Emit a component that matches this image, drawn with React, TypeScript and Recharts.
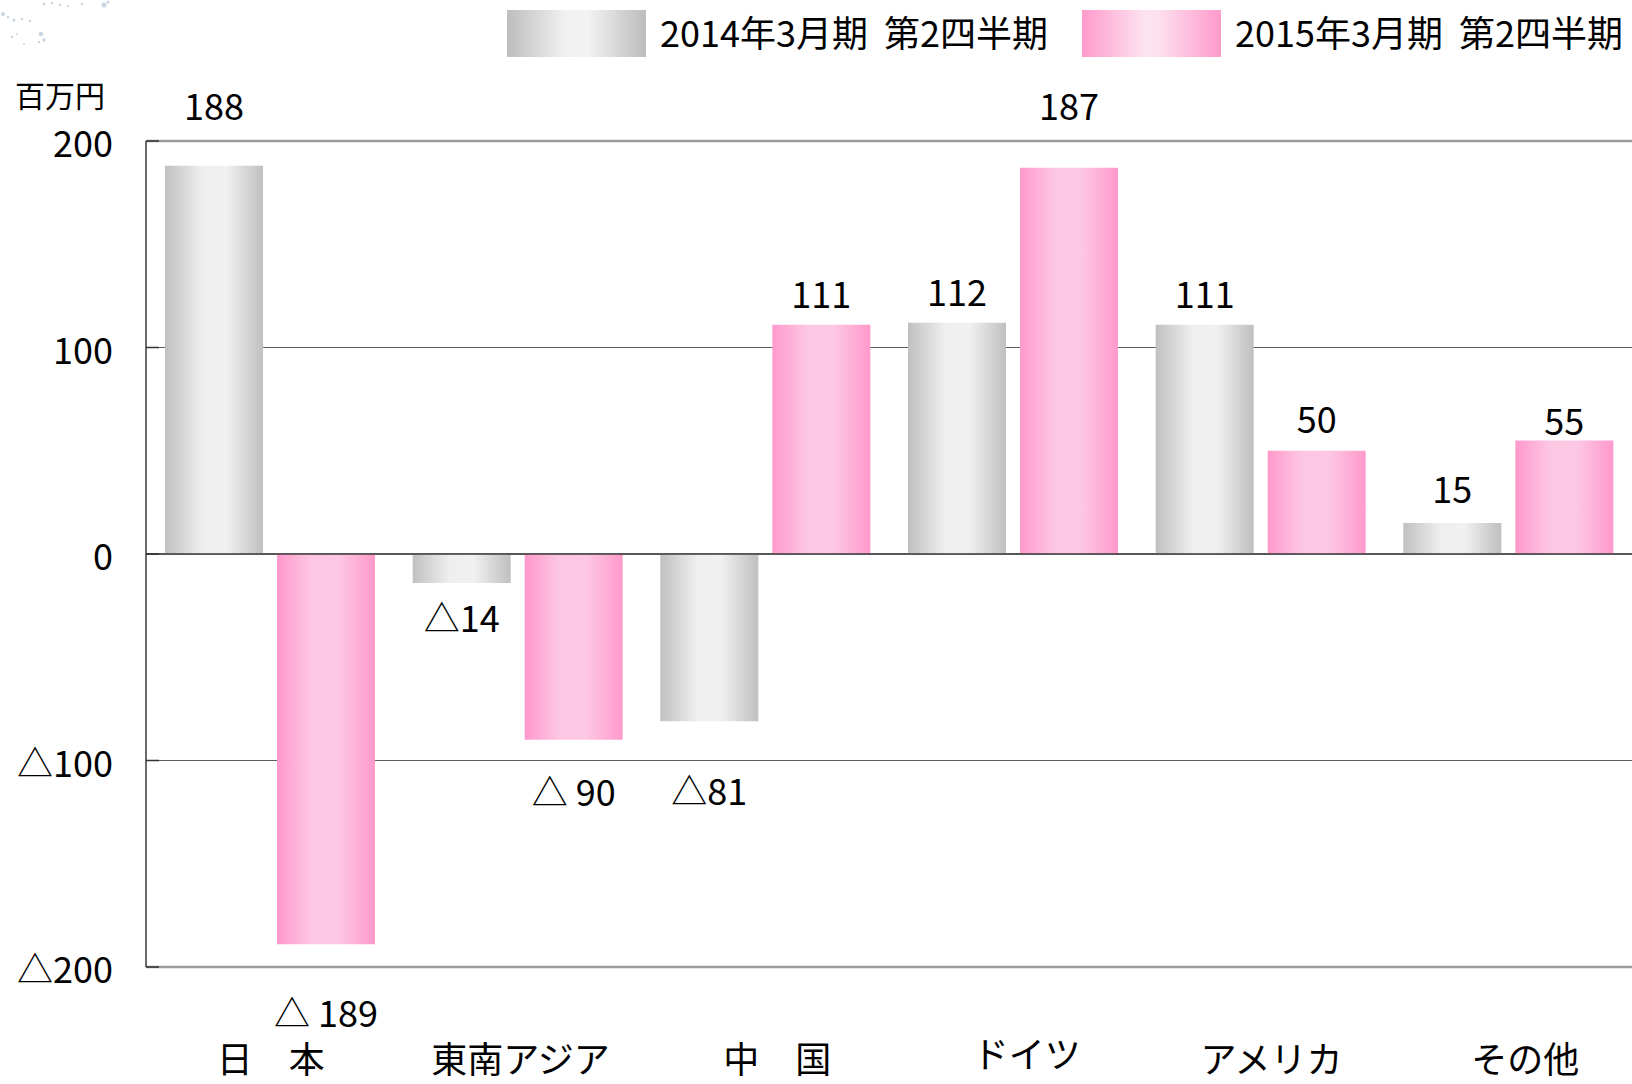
import React from "react";
import {
  BarChart,
  Bar,
  XAxis,
  YAxis,
  CartesianGrid,
  ReferenceLine,
  Legend,
  LabelList,
} from "recharts";

// ---- data ----
const categories = ["日　本", "東南アジア", "中　国", "ドイツ", "アメリカ", "その他"];
const values2014 = [188, -14, -81, 112, 111, 15];
const values2015 = [-189, -90, 111, 187, 50, 55];
const labels2014 = ["188", "△14", "△81", "112", "111", "15"];
const labels2015 = ["△ 189", "△ 90", "111", "187", "50", "55"];
const seriesNames = ["2014年3月期  第2四半期", "2015年3月期  第2四半期"];
const yTicks = [-200, -100, 0, 100, 200];
const unitLabel = "百万円";

// label placement nudges (px), styling only
const nudge2014 = [-29, 0, 35, 0, 0, -3];
const nudge2015 = [34, 17, 0, -31, -1, 12];
const catNudgeX = [1, 3, 12, 14, 11, 17];
const catNudgeY = [0, 0, 0, -5, 0, 0];

const data = categories.map((name, i) => ({
  name,
  v2014: values2014[i],
  v2015: values2015[i],
}));

const FONT = '"Noto Sans CJK JP", "Noto Sans", sans-serif';
const FS = 36;

const fmtTick = (v: number) => (v < 0 ? "△" + Math.abs(v) : String(v));

const makeLabel = (texts: string[], vals: number[], nudges: number[]) => (props: any) => {
  const { x, y, width, height, index } = props;
  const top = Math.min(y, y + height);
  const bottom = Math.max(y, y + height);
  const val = vals[index];
  const cx = x + width / 2;
  const baseline = val >= 0 ? top - 17 + nudges[index] : bottom + 19 + 30 + nudges[index];
  return (
    <text
      x={cx}
      y={baseline}
      textAnchor="middle"
      fontFamily={FONT}
      fontSize={FS}
      fill="#000"
    >
      {texts[index]}
    </text>
  );
};

const YTick = (props: any) => {
  const { x, y, payload } = props;
  return (
    <g>
      <line x1={x} x2={x + 13} y1={y} y2={y} stroke="#333" strokeWidth={1.5} />
      <text
        x={x - 33}
        y={y + 16}
        textAnchor="end"
        fontFamily={FONT}
        fontSize={FS}
        fill="#000"
      >
        {fmtTick(payload.value)}
      </text>
    </g>
  );
};

const XTick = (props: any) => {
  const { x, y, payload, index } = props;
  return (
    <text
      x={x + (catNudgeX[index] || 0)}
      y={y + 106 + (catNudgeY[index] || 0)}
      textAnchor="middle"
      fontFamily={FONT}
      fontSize={FS}
      fill="#000"
      style={{ whiteSpace: "pre" }}
    >
      {payload.value}
    </text>
  );
};

const LegendContent = () => {
  const items = [
    { name: seriesNames[0], grad: "lgGray", sx: 507, tx: 660 },
    { name: seriesNames[1], grad: "lgPink", sx: 1082, tx: 1235 },
  ];
  return (
    <svg width={1632} height={70} style={{ display: "block" }}>
      <defs>
        <linearGradient id="lgGray" x1="0" y1="0" x2="1" y2="0">
          <stop offset="0%" stopColor="#bdbdbd" />
          <stop offset="42%" stopColor="#f1f1f1" />
          <stop offset="58%" stopColor="#f3f3f3" />
          <stop offset="100%" stopColor="#bcbcbc" />
        </linearGradient>
        <linearGradient id="lgPink" x1="0" y1="0" x2="1" y2="0">
          <stop offset="0%" stopColor="#ff9acb" />
          <stop offset="45%" stopColor="#fde3f0" />
          <stop offset="55%" stopColor="#fde0ee" />
          <stop offset="100%" stopColor="#ff9acb" />
        </linearGradient>
      </defs>
      {items.map((it) => (
        <g key={it.name}>
          <rect x={it.sx} y={10} width={139} height={47} fill={`url(#${it.grad})`} />
          <text
            x={it.tx}
            y={46.5}
            fontFamily={FONT}
            fontSize={FS}
            fill="#000"
            style={{ whiteSpace: "pre" }}
          >
            {it.name}
          </text>
        </g>
      ))}
    </svg>
  );
};

const Decoration = () => (
  <svg
    width={130}
    height={60}
    style={{ position: "absolute", left: 0, top: 0, pointerEvents: "none" }}
  >
    <g fill="#9db3cc" opacity={0.55}>
      <circle cx={3} cy={14} r={2} />
      <circle cx={8} cy={17} r={1.2} />
      <circle cx={14} cy={20} r={1.5} />
      <circle cx={22} cy={19} r={1.3} />
      <circle cx={30} cy={21} r={1.2} />
      <circle cx={44} cy={4} r={1.4} />
      <circle cx={52} cy={3} r={1.2} />
      <circle cx={60} cy={5} r={1.3} />
      <circle cx={68} cy={6} r={1.1} />
      <circle cx={82} cy={4} r={1.2} />
      <circle cx={104} cy={5} r={2.5} />
      <circle cx={108} cy={2} r={1.5} />
      <circle cx={12} cy={37} r={1.2} />
      <circle cx={17} cy={34} r={1} />
      <circle cx={41} cy={34} r={2.2} />
      <circle cx={44} cy={40} r={1.8} />
      <circle cx={39} cy={42} r={1.3} />
      <circle cx={24} cy={44} r={1} />
    </g>
  </svg>
);

export default function App() {
  return (
    <div
      style={{
        position: "absolute",
        left: 0,
        top: 0,
        width: 1632,
        height: 1084,
        background: "#fff",
        overflow: "hidden",
      }}
    >
      <Decoration />
      <div
        style={{
          position: "absolute",
          left: 15,
          top: 76,
          fontFamily: FONT,
          fontSize: 30,
          lineHeight: "36px",
          color: "#000",
        }}
      >
        {unitLabel}
      </div>
      <BarChart
        width={1632}
        height={1084}
        data={data}
        margin={{ top: 141, right: 0, bottom: 0, left: 0 }}
        barSize={98}
        barGap={14}
      >
        <defs>
          <linearGradient id="gGray" x1="0" y1="0" x2="1" y2="0">
            <stop offset="0%" stopColor="#c0c0c0" />
            <stop offset="38%" stopColor="#efefef" />
            <stop offset="62%" stopColor="#f1f1f1" />
            <stop offset="100%" stopColor="#bfbfbf" />
          </linearGradient>
          <linearGradient id="gPink" x1="0" y1="0" x2="1" y2="0">
            <stop offset="0%" stopColor="#ff99cb" />
            <stop offset="35%" stopColor="#fdc6e3" />
            <stop offset="62%" stopColor="#fdc8e4" />
            <stop offset="100%" stopColor="#ff99cb" />
          </linearGradient>
        </defs>
        <CartesianGrid vertical={false} stroke="#5e5e5e" strokeWidth={1} />
        <ReferenceLine y={0} stroke="#3a3a3a" strokeWidth={1.5} />
        <ReferenceLine y={200} stroke="#9c9c9c" strokeWidth={2.5} />
        <ReferenceLine y={-200} stroke="#9c9c9c" strokeWidth={2.5} />
        <XAxis
          dataKey="name"
          height={117}
          axisLine={false}
          tickLine={false}
          tickSize={0}
          tickMargin={0}
          interval={0}
          tick={<XTick />}
        />
        <YAxis
          width={146}
          domain={[-200, 200]}
          ticks={yTicks}
          allowDataOverflow
          axisLine={{ stroke: "#3a3a3a", strokeWidth: 1.5 }}
          tickLine={false}
          tickSize={0}
          tickMargin={0}
          tick={<YTick />}
        />
        <Legend
          verticalAlign="middle"
          align="center"
          layout="horizontal"
          content={<LegendContent />}
          wrapperStyle={{ position: "absolute", left: 0, top: 0, width: 1632, height: 70 }}
        />
        <Bar
          dataKey="v2014"
          name={seriesNames[0]}
          fill="url(#gGray)"
          isAnimationActive={false}
        >
          <LabelList dataKey="v2014" content={makeLabel(labels2014, values2014, nudge2014)} />
        </Bar>
        <Bar
          dataKey="v2015"
          name={seriesNames[1]}
          fill="url(#gPink)"
          isAnimationActive={false}
        >
          <LabelList dataKey="v2015" content={makeLabel(labels2015, values2015, nudge2015)} />
        </Bar>
      </BarChart>
    </div>
  );
}
